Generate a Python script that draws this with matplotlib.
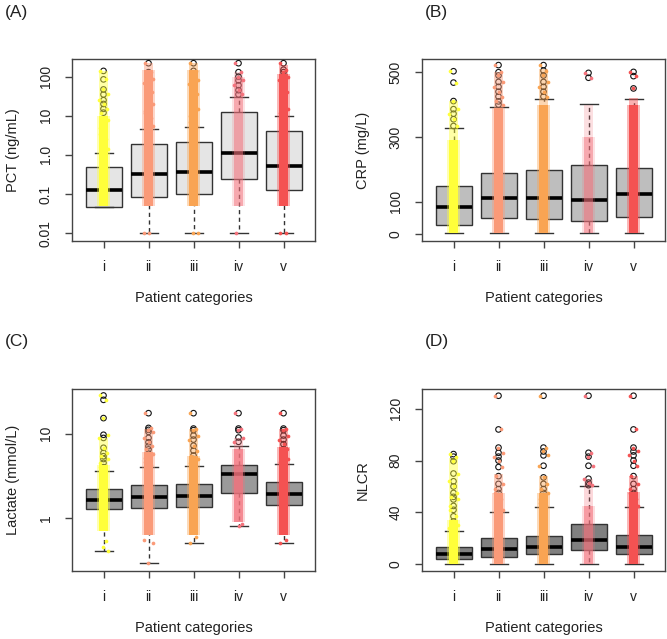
import numpy as np
import matplotlib
matplotlib.use("Agg")
import matplotlib.pyplot as plt

plt.rcParams['font.family'] = ['Liberation Sans', 'DejaVu Sans']

categories = ["i", "ii", "iii", "iv", "v"]
point_colors = ["#FFFF3A", "#FA9A78", "#F9A453", "#F4727C", "#F45252"]

# (A) PCT, log scale
pct_whislo = [0.047, 0.01, 0.01, 0.01, 0.01]
pct_q1 = [0.047, 0.086, 0.10, 0.24, 0.128]
pct_med = [0.13, 0.32, 0.357, 1.15, 0.51]
pct_q3 = [0.49, 1.9, 2.17, 12.2, 4.1]
pct_whishi = [1.15, 4.6, 5.1, 30, 10]
pct_outliers = [
    [140, 85, 47, 35, 25, 20, 15, 12, 8, 5, 3.5, 2.5, 1.8, 1.4],
    [220, 130, 100, 85, 70, 55, 40, 30, 20, 13, 12, 9, 7, 5.5],
    [220, 140, 100, 80, 65, 50, 35, 25, 15, 10, 7, 5.5],
    [220, 130, 100, 80, 60, 45, 35],
    [220, 150, 130, 100, 80, 60, 40, 20, 15, 12],
]
pct_low_points = [[], [0.01, 0.01], [0.01, 0.01], [0.01], [0.01, 0.01]]
pct_band_lo = [0.05, 0.05, 0.05, 0.05, 0.05]
pct_band_hi = [10, 150, 150, 100, 120]
pct_sparse_hi = [140, 220, 220, 130, 200]
pct_band_alpha = [1.0, 1.0, 1.0, 0.5, 1.0]

# (B) CRP
crp_whislo = [3, 3, 3, 3, 3]
crp_q1 = [30, 50, 47, 42, 52]
crp_med = [85, 112, 112, 106, 125]
crp_q3 = [150, 190, 198, 213, 203]
crp_whishi = [327, 393, 416, 403, 418]
crp_outliers = [
    [503, 468, 411, 386, 372, 355, 334],
    [522, 500, 490, 470, 455, 440, 425, 410, 400],
    [522, 505, 490, 470, 455, 440, 425],
    [498, 483],
    [501, 488, 450],
]
crp_low_points = [[], [], [], [], []]
crp_band_lo = [3, 3, 3, 3, 3]
crp_band_hi = [290, 390, 400, 300, 400]
crp_sparse_hi = [410, 500, 510, 400, 420]
crp_band_alpha = [1.0, 1.0, 1.0, 0.5, 1.0]

# (C) Lactate, log scale
lac_whislo = [0.40, 0.29, 0.51, 0.80, 0.51]
lac_q1 = [1.26, 1.30, 1.36, 1.99, 1.42]
lac_med = [1.65, 1.79, 1.82, 3.34, 1.94]
lac_q3 = [2.18, 2.43, 2.54, 4.23, 2.69]
lac_whishi = [3.59, 4.04, 4.11, 7.1, 4.42]
lac_outliers = [
    [28.4, 25.2, 15.3, 9.7, 8.9, 6.8, 5.9, 5.4, 5.0, 4.5, 4.0],
    [17.5, 11.7, 11.1, 10.5, 8.9, 7.9, 7.1, 6.5, 5.8, 5.2, 4.6, 4.2],
    [17.5, 11.5, 11.0, 9.5, 8.5, 7.2, 6.3, 5.5, 5.0, 4.5],
    [17.5, 11.5, 11.0, 9.0, 8.0],
    [17.5, 11.5, 11.0, 9.5, 8.5, 7.5, 6.5, 5.5, 5.0, 4.6],
]
lac_low_points = [[0.53, 0.45, 0.40], [0.29, 0.5, 0.55], [0.51, 0.6], [0.8, 0.85], [0.51, 0.55]]
lac_band_lo = [0.7, 0.62, 0.62, 0.9, 0.62]
lac_band_hi = [4.2, 6.0, 5.5, 6.5, 7.0]
lac_sparse_hi = [9.0, 11.5, 11.5, 9.0, 11.5]
lac_band_alpha = [1.0, 1.0, 1.0, 0.75, 1.0]

# (D) NLCR
nlcr_whislo = [0, 0, 0, 0, 0]
nlcr_q1 = [4.1, 5.9, 8.0, 11.1, 8.0]
nlcr_med = [8.0, 11.6, 13.2, 18.6, 13.2]
nlcr_q3 = [13.2, 20.1, 21.9, 31.2, 22.7]
nlcr_whishi = [26, 40, 43.9, 60, 44]
nlcr_outliers = [
    [85, 83, 79.5, 70, 64, 60, 55, 52, 50, 45, 42, 37, 33, 30, 28],
    [130, 104, 90, 86, 83, 80, 75, 68, 62, 58, 55, 50, 45, 42],
    [130, 90, 87, 84, 76, 67, 62, 58, 55, 50, 47, 45],
    [130, 86, 83, 76, 66, 63, 61],
    [130, 104, 90, 87, 84, 80, 76, 68, 62, 58, 55, 50, 47, 45],
]
nlcr_low_points = [[], [], [], [], []]
nlcr_band_lo = [0, 0, 0, 0, 0]
nlcr_band_hi = [34, 55, 55, 45, 56]
nlcr_sparse_hi = [82, 70, 68, 66, 68]
nlcr_band_alpha = [1.0, 1.0, 1.0, 0.6, 1.0]

JITTER = [-0.07, 0.05, -0.02, 0.09, -0.10, 0.02, 0.07, -0.05, 0.10, -0.08]
TXT = "#222222"


def draw_panel(ax, whislo, q1, med, q3, whishi, outliers, low_points,
               band_lo, band_hi, sparse_hi, band_alpha, box_color, log=False):
    pos = np.arange(1, len(categories) + 1)
    if log:
        ax.set_yscale("log")
    stats = []
    for k in range(len(categories)):
        stats.append(dict(whislo=whislo[k], q1=q1[k], med=med[k],
                          q3=q3[k], whishi=whishi[k], fliers=[]))
    ax.bxp(stats, positions=pos, widths=0.8, showfliers=False,
           patch_artist=True, capwidths=0.4,
           boxprops=dict(facecolor=box_color, edgecolor="#333333", linewidth=1),
           whiskerprops=dict(color="#333333", linestyle=(0, (3, 2.5)), linewidth=1),
           capprops=dict(color="#333333", linewidth=1),
           medianprops=dict(color="black", linewidth=2.6))
    for k, p in enumerate(pos):
        out = outliers[k]
        c = point_colors[k]
        a = band_alpha[k]
        ax.scatter([p] * len(out), out, s=16, facecolors="none",
                   edgecolors="#111111", linewidths=0.8, zorder=3)
        # dense part of the jittered cloud: soft outer edge + solid core
        ax.bar(p, band_hi[k] - band_lo[k], bottom=band_lo[k], width=0.31,
               color=c, alpha=0.4 * a, zorder=4, linewidth=0)
        ax.bar(p, band_hi[k] - band_lo[k], bottom=band_lo[k], width=0.22,
               color=c, alpha=a, zorder=4, linewidth=0)
        # sparse upper tail of the cloud
        ax.bar(p, sparse_hi[k] - band_hi[k], bottom=band_hi[k], width=0.2,
               color=c, alpha=0.45 * a, zorder=4, linewidth=0)
        pts = out + low_points[k]
        xs = [p + JITTER[j % len(JITTER)] for j in range(len(pts))]
        ax.scatter(xs, pts, s=7, color=c, linewidths=0, zorder=5)
    ax.set_xlim(0.3, 5.7)
    ax.set_xticks(pos)
    ax.set_xticklabels(categories)
    for s in ax.spines.values():
        s.set_color("#444444")
        s.set_linewidth(1)
    ax.tick_params(axis="both", length=5, width=1, color="#444444",
                   labelsize=10, labelcolor=TXT, pad=9)
    ax.tick_params(axis="y", which="minor", left=False)


fig = plt.figure(figsize=(6.67, 6.39), dpi=100)
W, H = 667.0, 639.0


def add_axes(left, top, width=243, height=182):
    return fig.add_axes([left / W, 1 - (top + height) / H, width / W, height / H])


axA = add_axes(72, 59)
axB = add_axes(422, 59)
axC = add_axes(72, 389)
axD = add_axes(422, 389)

draw_panel(axA, pct_whislo, pct_q1, pct_med, pct_q3, pct_whishi, pct_outliers,
           pct_low_points, pct_band_lo, pct_band_hi, pct_sparse_hi, pct_band_alpha,
           "#E5E5E5", log=True)
axA.set_ylim(10 ** -2.2, 10 ** 2.45)
axA.set_yticks([0.01, 0.1, 1, 10, 100])
axA.set_yticklabels(["0.01", "0.1", "1.0", "10", "100"], rotation=90, va="center")

draw_panel(axB, crp_whislo, crp_q1, crp_med, crp_q3, crp_whishi, crp_outliers,
           crp_low_points, crp_band_lo, crp_band_hi, crp_sparse_hi, crp_band_alpha,
           "#BEBEBE")
axB.set_ylim(-20.8, 540.8)
axB.set_yticks([0, 100, 300, 500])
axB.set_yticklabels(["0", "100", "300", "500"], rotation=90, va="center")

draw_panel(axC, lac_whislo, lac_q1, lac_med, lac_q3, lac_whishi, lac_outliers,
           lac_low_points, lac_band_lo, lac_band_hi, lac_sparse_hi, lac_band_alpha,
           "#9A9A9A", log=True)
axC.set_ylim(10 ** -0.63, 10 ** 1.53)
axC.set_yticks([1, 10])
axC.set_yticklabels(["1", "10"], rotation=90, va="center")

draw_panel(axD, nlcr_whislo, nlcr_q1, nlcr_med, nlcr_q3, nlcr_whishi, nlcr_outliers,
           nlcr_low_points, nlcr_band_lo, nlcr_band_hi, nlcr_sparse_hi, nlcr_band_alpha,
           "#808080")
axD.set_ylim(-5.2, 135.2)
axD.set_yticks([0, 40, 80, 120])
axD.set_yticklabels(["0", "40", "80", "120"], rotation=90, va="center")

for ax, ylab in [(axA, "PCT (ng/mL)"), (axB, "CRP (mg/L)"),
                 (axC, "Lactate (mmol/L)"), (axD, "NLCR")]:
    ax.text(0.5, -57 / 182, "Patient categories", transform=ax.transAxes,
            ha="center", va="center", fontsize=10.5, color=TXT)
    ax.text(-59 / 243, 0.5, ylab, transform=ax.transAxes, rotation=90,
            ha="center", va="center", fontsize=10.5, color=TXT)

for lab, x, y in [("(A)", 5, 12), ("(B)", 425, 12), ("(C)", 5, 342), ("(D)", 425, 342)]:
    fig.text(x / W, 1 - y / H, lab, ha="left", va="center", fontsize=12.5, color=TXT)

fig.savefig("out.png", dpi=100)
